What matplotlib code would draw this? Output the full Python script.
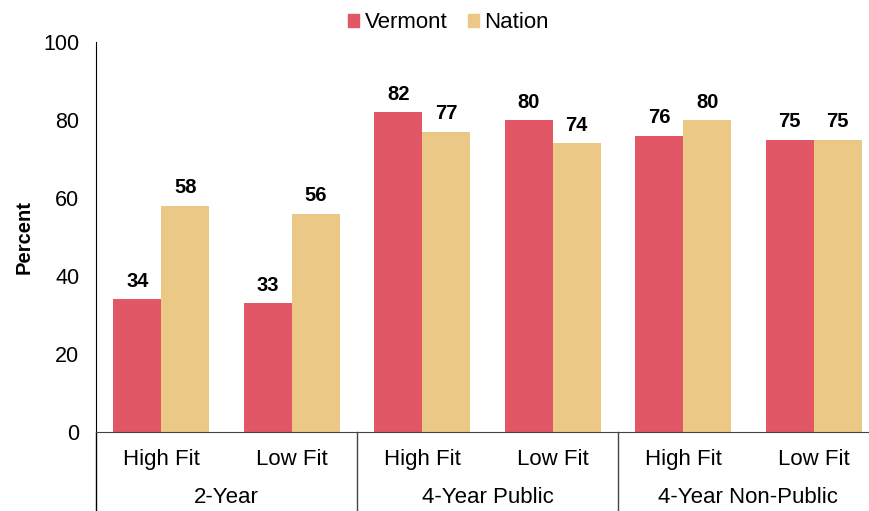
import matplotlib
matplotlib.use('Agg')
import matplotlib.pyplot as plt
from matplotlib.patches import Patch
import matplotlib.transforms as mtransforms
import numpy as np

plt.rcParams['font.family'] = ['Liberation Sans', 'DejaVu Sans']

# data
fit_labels = ['High Fit', 'Low Fit', 'High Fit', 'Low Fit', 'High Fit', 'Low Fit']
group_labels = ['2-Year', '4-Year Public', '4-Year Non-Public']
vermont = [34, 33, 82, 80, 76, 75]
nation = [58, 56, 77, 74, 80, 75]

red = '#E25766'
gold = '#EBC886'

fig = plt.figure(figsize=(8.69, 5.11), dpi=100)
W, H = 869, 511
ax = fig.add_axes([96 / W, (H - 432) / H, 783 / W, 390 / H])

x = np.arange(len(fit_labels))
w = 0.368
b1 = ax.bar(x - w / 2, vermont, w, color=red)
b2 = ax.bar(x + w / 2, nation, w, color=gold)

for bars, vals in ((b1, vermont), (b2, nation)):
    for b, v in zip(bars, vals):
        ax.annotate(str(v), (b.get_x() + b.get_width() / 2, v), xytext=(0, 6),
                    textcoords='offset points', ha='center', va='bottom',
                    fontsize=14.5, fontweight='bold')

ax.set_xlim(-0.5, len(fit_labels) - 0.5)
ax.set_ylim(0, 100)
ax.set_yticks([0, 20, 40, 60, 80, 100])
ax.tick_params(axis='y', length=0, labelsize=15.5, pad=12)
ax.set_xticks([])
for s in ['top', 'right']:
    ax.spines[s].set_visible(False)
ax.spines['left'].set_color('black')
ax.spines['bottom'].set_color('#444444')
ax.set_ylabel('Percent', fontsize=14.5, fontweight='bold', labelpad=7)

trans = mtransforms.blended_transform_factory(ax.transData, ax.transAxes)
bottom = -(H - 432) / 390
for xs in [-0.5, 1.5, 3.5]:
    ax.plot([xs, xs], [0, bottom], transform=trans, color='#444444' if xs > 0 else 'black',
            lw=1, clip_on=False)

for i, lab in enumerate(fit_labels):
    ax.text(i, -27 / 390, lab, transform=trans, ha='center', va='center', fontsize=16)
for g, lab in enumerate(group_labels):
    ax.text(2 * g + 0.5, -65 / 390, lab, transform=trans, ha='center', va='center', fontsize=16)

handles = [Patch(color=red, label='Vermont'), Patch(color=gold, label='Nation')]
fig.legend(handles=handles, loc='upper center', bbox_to_anchor=(0.516, 0.998), ncol=2,
           frameon=False, fontsize=16, handlelength=0.5, handleheight=0.5,
           handletextpad=0.25, columnspacing=0.9, borderaxespad=0.1)

fig.savefig('out.png', dpi=100)
